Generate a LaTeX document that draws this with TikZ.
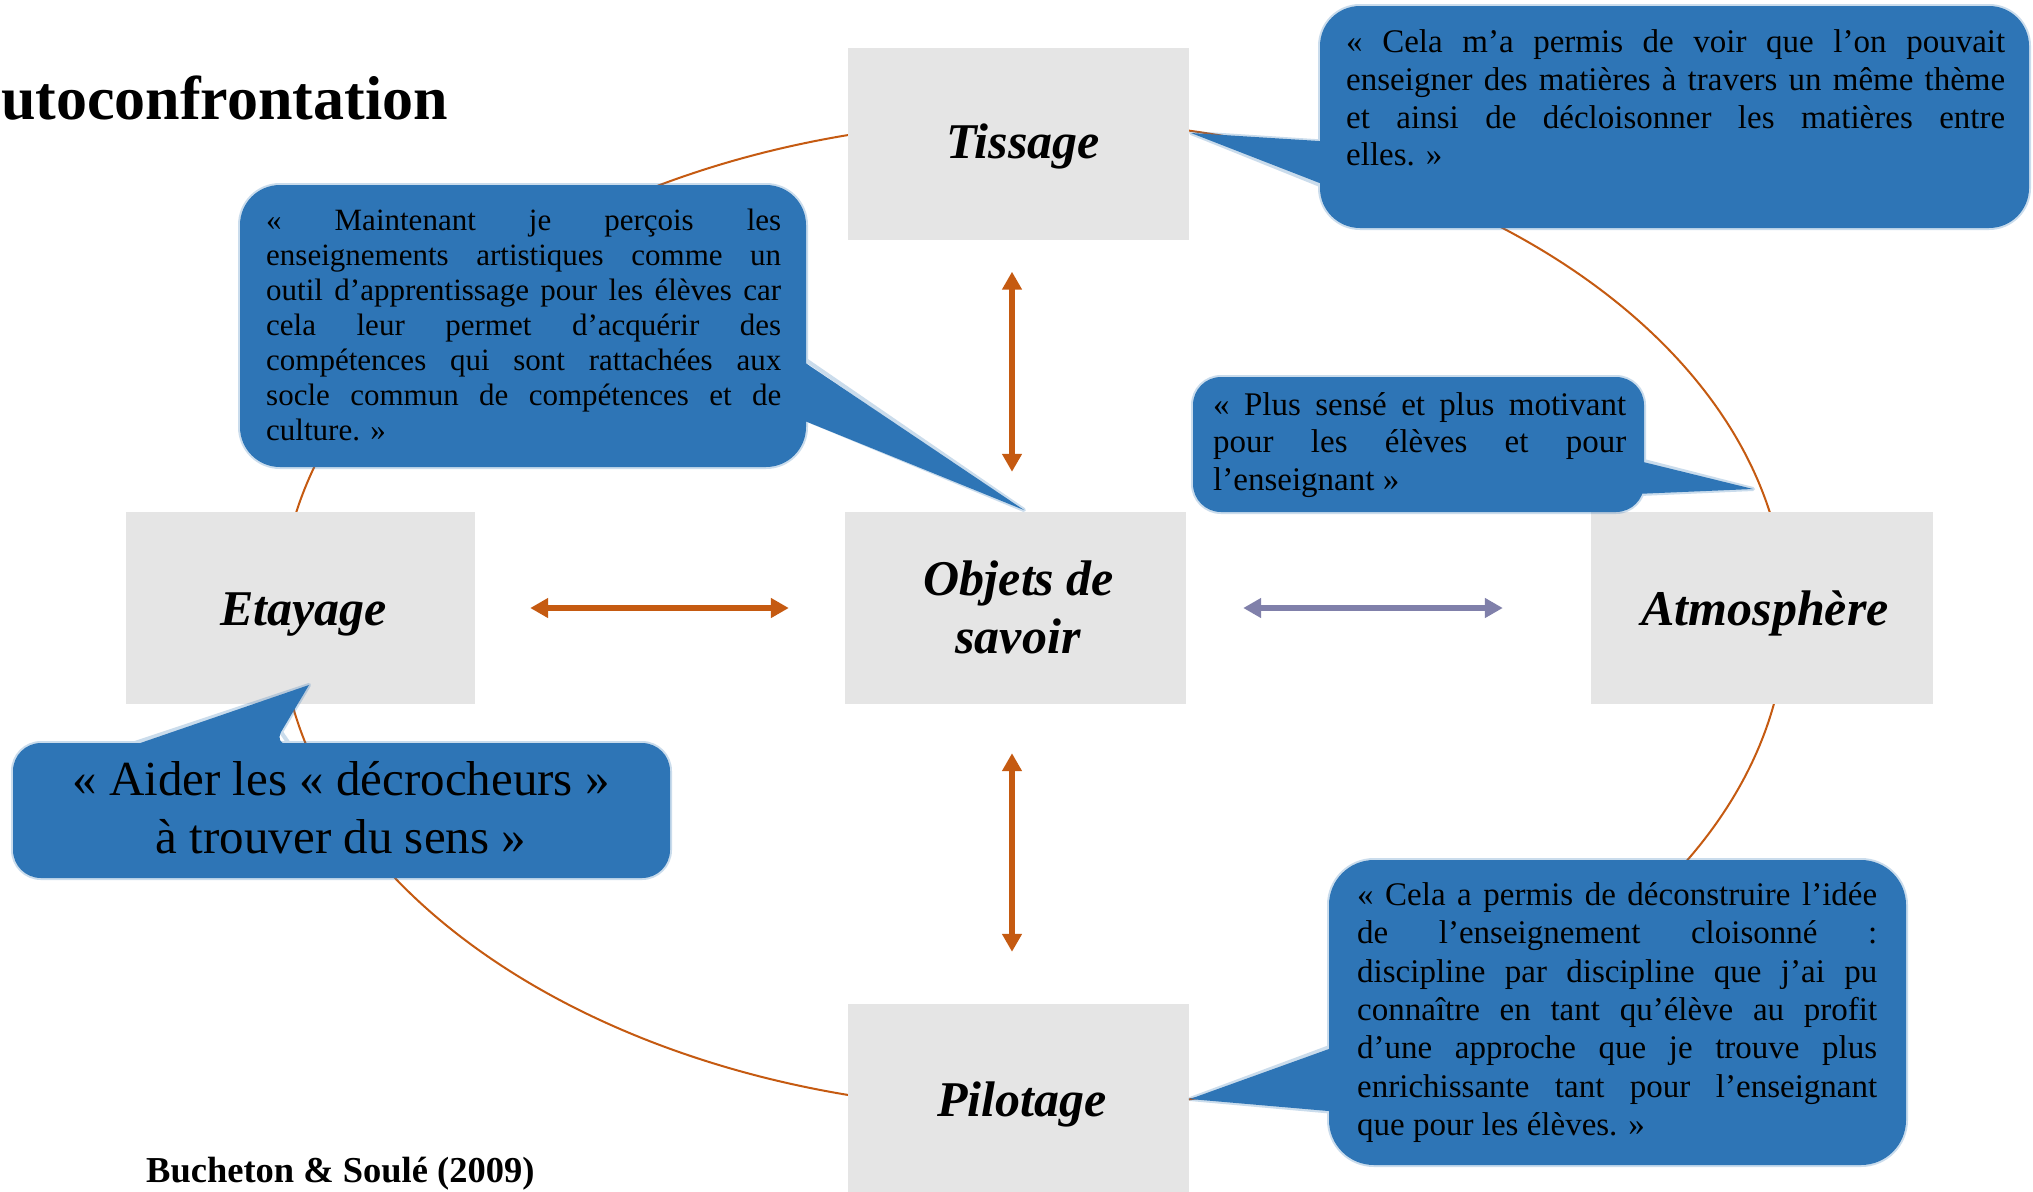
\documentclass[tikz,border=0pt]{standalone}
\usepackage{fontspec}
\setmainfont{Liberation Serif}
\usetikzlibrary{arrows.meta}
\definecolor{bblue}{RGB}{46,117,182}
\definecolor{orng}{RGB}{197,90,17}
\definecolor{purp}{RGB}{128,128,170}
\definecolor{boxgray}{RGB}{229,229,229}
\newcommand\jline[2]{\makebox[#1pt][s]{#2}}
\begin{document}
\begin{tikzpicture}[x=1pt,y=-1pt,
  box/.style={fill=boxgray, inner sep=0pt, minimum height=192pt},
  boxlabel/.style={anchor=base, inner sep=0pt, font=\fontsize{50}{58}\selectfont\bfseries\itshape},
  qline/.style={anchor=base west, inner sep=0pt, font=\fontsize{33}{38}\selectfont},
  qlinesmall/.style={anchor=base west, inner sep=0pt, font=\fontsize{31}{35}\selectfont},
  qlinebig/.style={anchor=base, inner sep=0pt, font=\fontsize{49}{57}\selectfont},
  arrtip/.tip={Triangle[length=18pt,width=19pt]},
  link/.style={line width=6.5pt, arrtip-arrtip},
  glow/.style={draw=bblue, line width=4pt, line join=round},
  bubblefill/.style={fill=bblue},
]
\useasboundingbox (0,0) rectangle (2033,1191);
\clip (0,0) rectangle (2033,1191);
\fill[white] (0,0) rectangle (2033,1191);

% title and source
\node[anchor=base west, inner sep=0pt, font=\fontsize{62}{70}\selectfont\bfseries] (title) at (1,119) {utoconfrontation};
\node[anchor=base west, inner sep=0pt, font=\fontsize{36.5}{40}\selectfont\bfseries] (source) at (146,1182) {Bucheton \& Soulé (2009)};

% cycle
\draw[orng, line width=2pt] (1033,615) ellipse [x radius=753pt, y radius=495pt];

% boxes
\node[box, minimum width=341pt] (tissage) at (1018.5,143.5) {};
\node[box, minimum width=341pt] (objets) at (1015.5,608) {};
\node[box, minimum width=349pt] (etayage) at (300.5,608) {};
\node[box, minimum width=342pt] (atmos) at (1762,608) {};
\node[box, minimum width=341pt] (pilotage) at (1018.5,1100) {};

\node[boxlabel] (ltissage) at (1023,158) {Tissage};
\node[boxlabel] (lobjets1) at (1019,595) {Objets de};
\node[boxlabel] (lobjets2) at (1018,653) {savoir};
\node[boxlabel] (letayage) at (303.5,625) {Etayage};
\node[boxlabel] (latmos) at (1765,625) {Atmosphère};
\node[boxlabel] (lpilotage) at (1022,1116) {Pilotage};

% arrows
\draw[link, orng, shorten <=32pt, shorten >=40pt] ([xshift=-6.5pt]tissage.south) -- ([xshift=-3.5pt]objets.north);
\draw[link, orng, shorten <=49pt, shorten >=52pt] ([xshift=-3.5pt]objets.south) -- ([xshift=-6.5pt]pilotage.north);
\draw[link, orng, shorten <=55pt, shorten >=56pt] (etayage.east) -- (objets.west);
\draw[link, purp, shorten <=57pt, shorten >=88pt] (objets.east) -- (atmos.west);

% ---------- bubble top right ----------
\begin{scope}[transparency group, opacity=0.25]
  \draw[glow, rounded corners=40pt] (1320,6) rectangle (2029,228);
  \draw[glow] (1330,142) -- (1191,133) -- (1330,189);
\end{scope}
\fill[bubblefill, rounded corners=40pt] (1320,6) rectangle (2029,228);
\fill[bubblefill] (1335,142) -- (1191,133) -- (1335,189) -- cycle;
\node[qline] (tr1) at (1346,52) {\jline{659}{« Cela m’a permis de voir que l’on pouvait}};
\node[qline] (tr2) at (1346,90) {\jline{659}{enseigner des matières à travers un même thème}};
\node[qline] (tr3) at (1346,128) {\jline{659}{et ainsi de décloisonner les matières entre}};
\node[qline] (tr4) at (1346,165) {elles. »};

% ---------- bubble left ----------
\begin{scope}[transparency group, opacity=0.25]
  \draw[glow, rounded corners=40pt] (240,185) rectangle (806,467);
  \draw[glow] (800,356) -- (1024,510) -- (800,417);
\end{scope}
\fill[bubblefill, rounded corners=40pt] (240,185) rectangle (806,467);
\fill[bubblefill] (795,356) -- (1024,510) -- (795,417) -- cycle;
\node[qlinesmall] (tl1) at (266,230) {\jline{515}{« Maintenant je perçois les}};
\node[qlinesmall] (tl2) at (266,265) {\jline{515}{enseignements artistiques comme un}};
\node[qlinesmall] (tl3) at (266,300) {\jline{515}{outil d’apprentissage pour les élèves car}};
\node[qlinesmall] (tl4) at (266,335) {\jline{515}{cela leur permet d’acquérir des}};
\node[qlinesmall] (tl5) at (266,370) {\jline{515}{compétences qui sont rattachées aux}};
\node[qlinesmall] (tl6) at (266,405) {\jline{515}{socle commun de compétences et de}};
\node[qlinesmall] (tl7) at (266,440) {culture. »};

% ---------- bubble plus sensé ----------
\begin{scope}[transparency group, opacity=0.25]
  \draw[glow, rounded corners=28pt] (1193,377) rectangle (1644,512);
  \draw[glow] (1640,460) -- (1753,489) -- (1640,494);
\end{scope}
\fill[bubblefill, rounded corners=28pt] (1193,377) rectangle (1644,512);
\fill[bubblefill] (1635,460) -- (1753,489) -- (1635,494) -- cycle;
\node[qline] (ps1) at (1213,415) {\jline{413}{« Plus sensé et plus motivant}};
\node[qline] (ps2) at (1213,452) {\jline{413}{pour les élèves et pour}};
\node[qline] (ps3) at (1213,490) {l’enseignant »};

% ---------- bubble aider ----------
\begin{scope}[transparency group, opacity=0.25]
  \draw[glow, rounded corners=28pt] (13,743) rectangle (670,878);
  \draw[glow] (120,748) -- (309,685) -- (281,732) -- (292,748);
\end{scope}
\fill[bubblefill, rounded corners=28pt] (13,743) rectangle (670,878);
\fill[bubblefill] (120,750) -- (309,685) -- (281,732) .. controls (278,740) .. (292,750) -- cycle;
\node[qlinebig] (ad1) at (341,795) {« Aider les « décrocheurs »};
\node[qlinebig] (ad2) at (341,853) {à trouver du sens »};

% ---------- bubble bottom right ----------
\begin{scope}[transparency group, opacity=0.25]
  \draw[glow, rounded corners=45pt] (1329,860) rectangle (1906,1165);
  \draw[glow] (1335,1045) -- (1190,1099) -- (1335,1112);
\end{scope}
\fill[bubblefill, rounded corners=45pt] (1329,860) rectangle (1906,1165);
\fill[bubblefill] (1340,1045) -- (1190,1099) -- (1340,1112) -- cycle;
\node[qline] (br1) at (1357,905) {\jline{520}{« Cela a permis de déconstruire l’idée}};
\node[qline] (br2) at (1357,943) {\jline{520}{de l’enseignement cloisonné :}};
\node[qline] (br3) at (1357,982) {\jline{520}{discipline par discipline que j’ai pu}};
\node[qline] (br4) at (1357,1020) {\jline{520}{connaître en tant qu’élève au profit}};
\node[qline] (br5) at (1357,1058) {\jline{520}{d’une approche que je trouve plus}};
\node[qline] (br6) at (1357,1097) {\jline{520}{enrichissante tant pour l’enseignant}};
\node[qline] (br7) at (1357,1135) {que pour les élèves. »};
\end{tikzpicture}
\end{document}
